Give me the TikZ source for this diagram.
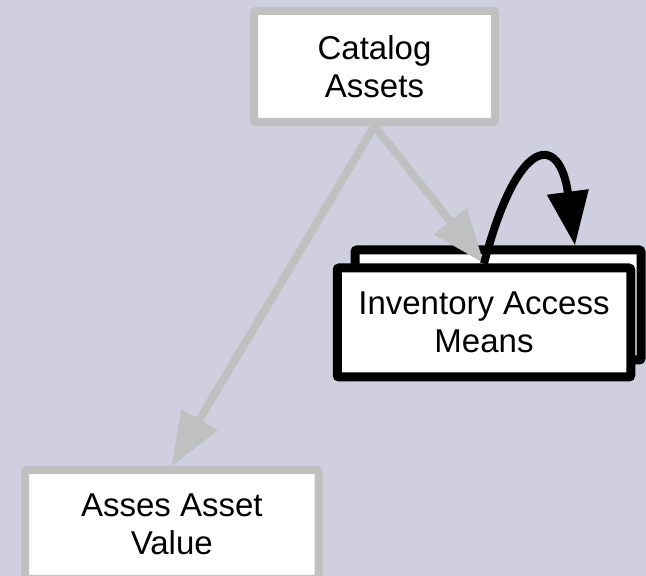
\documentclass[tikz,border=0pt]{standalone}
\usepackage{fontspec}
\setmainfont{Liberation Sans}
\usetikzlibrary{arrows.meta}
\definecolor{bglav}{RGB}{207,207,223}
\definecolor{edgegray}{RGB}{192,192,192}
\tikzset{
  taskbox/.style={draw, fill=white, rounded corners=2pt, inner sep=0pt, align=center, font=\fontsize{33}{38.5}\selectfont},
  donebox/.style={taskbox, draw=edgegray, line width=8pt},
  activebox/.style={taskbox, draw=black, line width=9pt},
  flowarrow/.style={color=edgegray, line width=8pt, -{Triangle[length=54pt,width=40pt]}},
  loopflow/.style={color=black, line width=8pt, -{Triangle[length=54pt,width=40pt]}},
}

\begin{document}
\begin{tikzpicture}[x=1pt,y=1pt]
	%%%%% START %%%%%
	\fill[bglav] (0,0) rectangle (646,576);
	\useasboundingbox (0,0) rectangle (646,576);
	
	\node[donebox, minimum width=241pt, minimum height=111pt] (catalog) at (374.5,509.5) {Catalog\\Assets};
	\node[activebox, minimum width=286pt, minimum height=110pt] (invback) at (498,271) {};
	\node[activebox, minimum width=293.5pt, minimum height=109pt] (inventory) at (484,253.5) {Inventory Access\\Means};
	\node[donebox, minimum width=293.5pt, minimum height=109pt] (assess) at (171.8,51.5) {Asses Asset\\Value};
	
	\coordinate (looptip) at ([xshift=77pt]invback.north);
	
	\draw[flowarrow] (catalog.south) -- (inventory.north);
	\draw[flowarrow] (catalog.south) -- (assess.north);
	\draw[loopflow] (inventory.north) .. controls +(34,130) and +(-15,112) .. (looptip);
	%%%%% END %%%%%
\end{tikzpicture}
\end{document}
